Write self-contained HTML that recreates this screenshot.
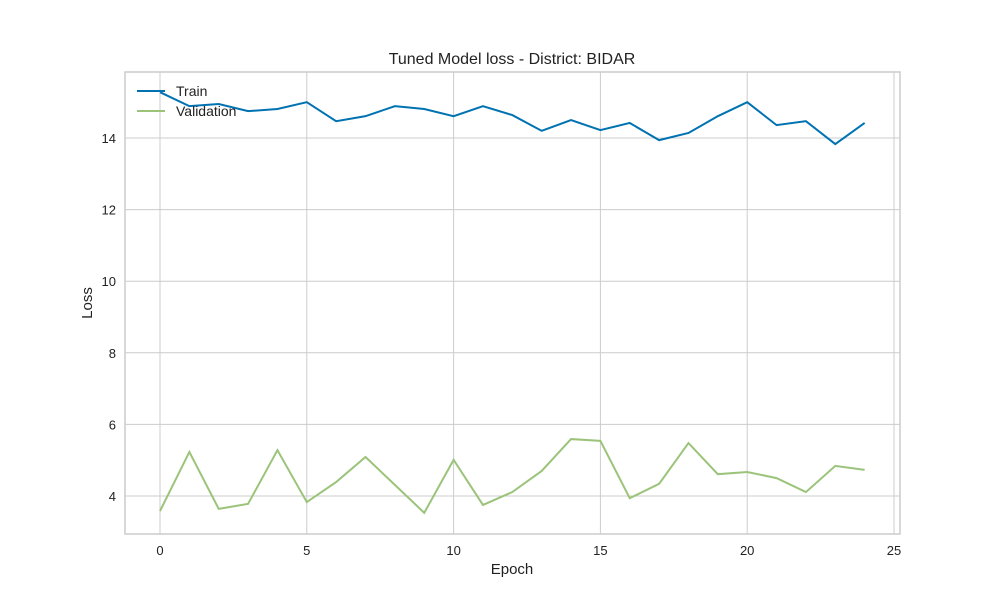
<!DOCTYPE html>
<html><head><meta charset="utf-8"><style>
body{margin:0;background:#fff;font-family:"Liberation Sans",sans-serif}
</style></head><body>
<svg id="chart" width="1000" height="600" font-family="Liberation Sans, sans-serif"></svg>
<script>
const epochs=[0,1,2,3,4,5,6,7,8,9,10,11,12,13,14,15,16,17,18,19,20,21,22,23,24];
const trainLoss=[15.28,14.89,14.95,14.75,14.81,15.0,14.47,14.61,14.89,14.81,14.61,14.89,14.64,14.2,14.5,14.22,14.42,13.94,14.14,14.61,15.0,14.36,14.47,13.83,14.42];
const valLoss=[3.58,5.23,3.64,3.78,5.28,3.83,4.39,5.09,4.31,3.53,5.01,3.75,4.11,4.70,5.59,5.54,3.94,4.34,5.48,4.61,4.67,4.50,4.11,4.84,4.73];
const xTicks=[0,5,10,15,20,25];
const yTicks=[4,6,8,10,12,14];
const L=125,R=900,T=72,B=534;
const x=v=>160+v*(894-160)/25;
const y=v=>496-(v-4)*(496-138)/10;
const svg=document.getElementById('chart');
const NS='http://www.w3.org/2000/svg';
function mk(tag,attrs,parent){const e=document.createElementNS(NS,tag);for(const k in attrs)e.setAttribute(k,attrs[k]);(parent||svg).appendChild(e);return e;}
xTicks.forEach(t=>{
 const g=mk('line',{x1:x(t),x2:x(t),y1:T,y2:B,stroke:'#cccccc','stroke-width':1});
 
 
 const l=mk('text',{x:x(t),y:555,'text-anchor':'middle','font-size':13,fill:'#222'});l.textContent=t;
 
 
});
yTicks.forEach(t=>{
 const g=mk('line',{x1:L,x2:R,y1:y(t),y2:y(t),stroke:'#cccccc','stroke-width':1});
 
 
 const l=mk('text',{x:116,y:y(t)+5,'text-anchor':'end','font-size':13,fill:'#222'});l.textContent=t;
 
 
});
const fr=mk('rect',{x:L,y:T,width:R-L,height:B-T,fill:'none',stroke:'#cccccc','stroke-width':1.5});


function line(vals,color,name){
 const p=mk('polyline',{points:vals.map((v,i)=>x(epochs[i])+','+y(v)).join(' '),fill:'none',stroke:color,'stroke-width':2});
 
 
}
line(trainLoss,'#0072b2','train-line');
line(valLoss,'#9bc47a','validation-line');
const lg=[['Train','#0072b2',91],['Validation','#9bc47a',111]];
lg.forEach(([n,c,yy])=>{
 const s=mk('line',{x1:137,x2:165,y1:yy,y2:yy,stroke:c,'stroke-width':2});
 
 
 const t=mk('text',{x:176,y:yy+5,'font-size':14,fill:'#222'});t.textContent=n;
 
 
});
const ti=mk('text',{x:512,y:64,'text-anchor':'middle','font-size':16,fill:'#222'});ti.textContent='Tuned Model loss - District: BIDAR';


const xt=mk('text',{x:512,y:574,'text-anchor':'middle','font-size':15,fill:'#222'});xt.textContent='Epoch';


const yt=mk('text',{x:92,y:303,'text-anchor':'middle','font-size':15,fill:'#222',transform:'rotate(-90 92 303)'});yt.textContent='Loss';


</script>
</body></html>
